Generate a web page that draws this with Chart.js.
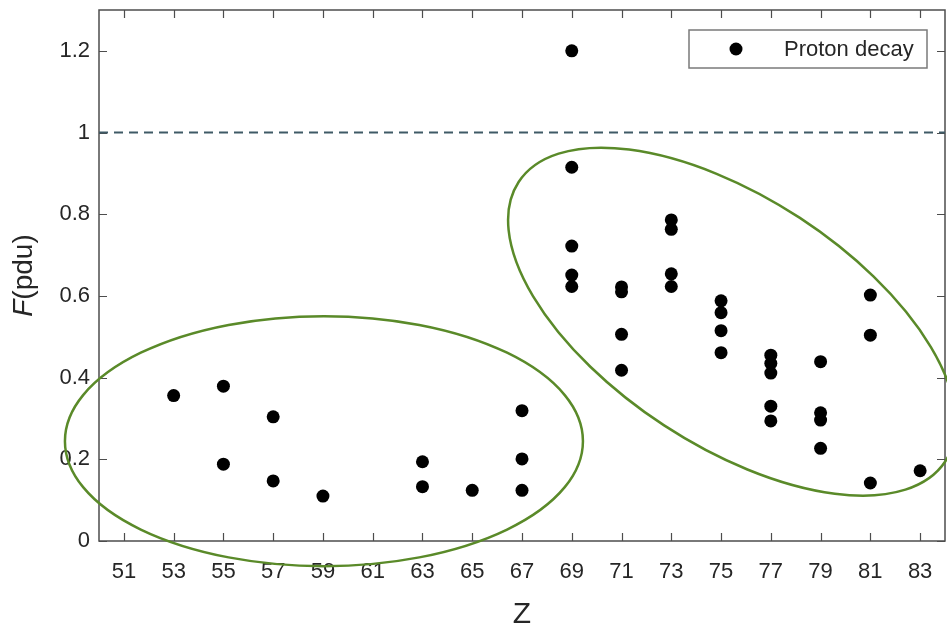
<!DOCTYPE html>
<html>
<head>
<meta charset="utf-8">
<script src="https://cdn.jsdelivr.net/npm/chart.js@4.4.1/dist/chart.umd.min.js"></script>
<style>
  html, body { margin: 0; padding: 0; background: #fff; }
  #wrap { width: 947px; height: 623px; }
</style>
</head>
<body>
<div id="wrap"><canvas id="c" width="947" height="623"></canvas></div>
<script>
// proton emitters: charge number Z and F value (pdu)
const zVals = [
  53, 55, 55, 57, 57, 59, 63, 63, 65, 67, 67, 67,
  69, 69, 69, 69, 69, 71, 71, 71, 71, 73, 73, 73, 73,
  75, 75, 75, 75, 77, 77, 77, 77, 77, 79, 79, 79, 79,
  81, 81, 81, 83,
];
const fVals = [
  0.356, 0.379, 0.188, 0.304, 0.147, 0.110, 0.194, 0.133, 0.124, 0.319, 0.201, 0.124,
  1.200, 0.915, 0.722, 0.651, 0.623, 0.622, 0.610, 0.506, 0.418, 0.786, 0.763, 0.654, 0.623,
  0.588, 0.559, 0.515, 0.461, 0.455, 0.435, 0.411, 0.330, 0.294, 0.439, 0.314, 0.296, 0.227,
  0.602, 0.504, 0.142, 0.172,
];
const zTicks = [51, 53, 55, 57, 59, 61, 63, 65, 67, 69, 71, 73, 75, 77, 79, 81, 83];
const fTicks = [0, 0.2, 0.4, 0.6, 0.8, 1, 1.2];
const zRange = [50, 84];
const fRange = [0, 1.3];
const refLevel = 1;
const seriesLabel = "Proton decay";

// groupings: centre in data units, half-axes in px, tilt in degrees
const groups = [
  { z: 59.04, f: 0.2445, rx: 259, ry: 125, rot: 0 },
  { z: 75.44, f: 0.537, rx: 255, ry: 124, rot: 33.2 },
];

const FONT = "'Liberation Sans', Arial, Helvetica, sans-serif";
const INK = "#262626";
const AX = "#4d4d4d";

const frame = {
  id: "frame",
  beforeDatasetsDraw(chart) {
    const { ctx, chartArea: a, scales: { x, y } } = chart;
    ctx.save();
    ctx.strokeStyle = AX;
    ctx.lineWidth = 1.5;
    ctx.strokeRect(a.left, a.top, a.right - a.left, a.bottom - a.top);
    ctx.beginPath();
    zTicks.forEach((v) => {
      const px = Math.round(x.getPixelForValue(v)) + 0.5;
      ctx.moveTo(px, a.bottom); ctx.lineTo(px, a.bottom - 8);
      ctx.moveTo(px, a.top); ctx.lineTo(px, a.top + 8);
    });
    fTicks.forEach((v) => {
      const py = Math.round(y.getPixelForValue(v)) + 0.5;
      ctx.moveTo(a.left, py); ctx.lineTo(a.left + 8, py);
      ctx.moveTo(a.right, py); ctx.lineTo(a.right - 8, py);
    });
    ctx.lineWidth = 1.2;
    ctx.stroke();
    ctx.restore();
  },
  afterDraw(chart) {
    const { ctx, chartArea: a, scales: { x, y } } = chart;
    ctx.save();

    // group outlines
    ctx.strokeStyle = "#5a8a29";
    ctx.lineWidth = 2.5;
    groups.forEach((g) => {
      ctx.beginPath();
      ctx.ellipse(x.getPixelForValue(g.z), y.getPixelForValue(g.f), g.rx, g.ry, (g.rot * Math.PI) / 180, 0, Math.PI * 2);
      ctx.stroke();
    });

    // legend box
    const bw = 238, bh = 38;
    const bx = a.right - 18 - bw, by = a.top + 20;
    ctx.fillStyle = "#fff";
    ctx.fillRect(bx, by, bw, bh);
    ctx.strokeStyle = "#7a7a7a";
    ctx.lineWidth = 1.5;
    ctx.strokeRect(bx, by, bw, bh);
    ctx.fillStyle = "#000";
    ctx.beginPath();
    ctx.arc(bx + 47, by + 19, 6.5, 0, Math.PI * 2);
    ctx.fill();
    ctx.fillStyle = INK;
    ctx.font = `22px ${FONT}`;
    ctx.textAlign = "left";
    ctx.textBaseline = "middle";
    ctx.fillText(seriesLabel, bx + 95, by + 20);

    // axis titles
    ctx.font = `30px ${FONT}`;
    ctx.textAlign = "center";
    ctx.textBaseline = "alphabetic";
    ctx.fillText("Z", (a.left + a.right) / 2, 623);

    ctx.translate(32, (a.top + a.bottom) / 2);
    ctx.rotate(-Math.PI / 2);
    ctx.textAlign = "left";
    ctx.font = `italic 28px ${FONT}`;
    const wF = ctx.measureText("F").width;
    ctx.font = `28px ${FONT}`;
    const wR = ctx.measureText("(pdu)").width;
    const x0 = -(wF + wR) / 2;
    ctx.font = `italic 28px ${FONT}`;
    ctx.fillText("F", x0, 0);
    ctx.font = `28px ${FONT}`;
    ctx.fillText("(pdu)", x0 + wF, 0);
    ctx.restore();
  },
};

new Chart(document.getElementById("c"), {
  type: "scatter",
  data: {
    datasets: [
      {
        label: seriesLabel,
        data: zVals.map((z, i) => ({ x: z, y: fVals[i] })),
        backgroundColor: "#000",
        borderColor: "#000",
        borderWidth: 0,
        pointRadius: 6.5,
        pointHoverRadius: 6.5,
        order: 0,
      },
      {
        type: "line",
        label: "ref",
        data: [{ x: zRange[0], y: refLevel }, { x: zRange[1], y: refLevel }],
        borderColor: "#3f5a66",
        borderWidth: 2,
        borderDash: [9, 6],
        pointRadius: 0,
        fill: false,
        order: 1,
      },
    ],
  },
  options: {
    responsive: false,
    animation: false,
    devicePixelRatio: 1,
    layout: { autoPadding: false, padding: { top: 10, right: 2, left: 0, bottom: 0 } },
    plugins: { legend: { display: false }, tooltip: { enabled: false } },
    scales: {
      x: {
        type: "linear",
        min: zRange[0],
        max: zRange[1],
        afterBuildTicks: (s) => (s.ticks = zTicks.map((v) => ({ value: v }))),
        afterFit: (s) => {
          s.height = 82;
          s.paddingLeft = s.paddingRight = 0;
        },
        grid: { display: false, drawTicks: false },
        border: { display: false },
        ticks: { color: INK, font: { family: FONT, size: 22 }, padding: 18, maxRotation: 0, autoSkip: false, callback: (v) => String(v) },
      },
      y: {
        min: fRange[0],
        max: fRange[1],
        afterBuildTicks: (s) => (s.ticks = fTicks.map((v) => ({ value: v }))),
        afterFit: (s) => {
          s.width = 99;
          s.paddingTop = s.paddingBottom = 0;
        },
        grid: { display: false, drawTicks: false },
        border: { display: false },
        ticks: { color: INK, font: { family: FONT, size: 22 }, padding: 9, callback: (v) => String(v) },
      },
    },
  },
  plugins: [frame],
});
</script>
</body>
</html>
